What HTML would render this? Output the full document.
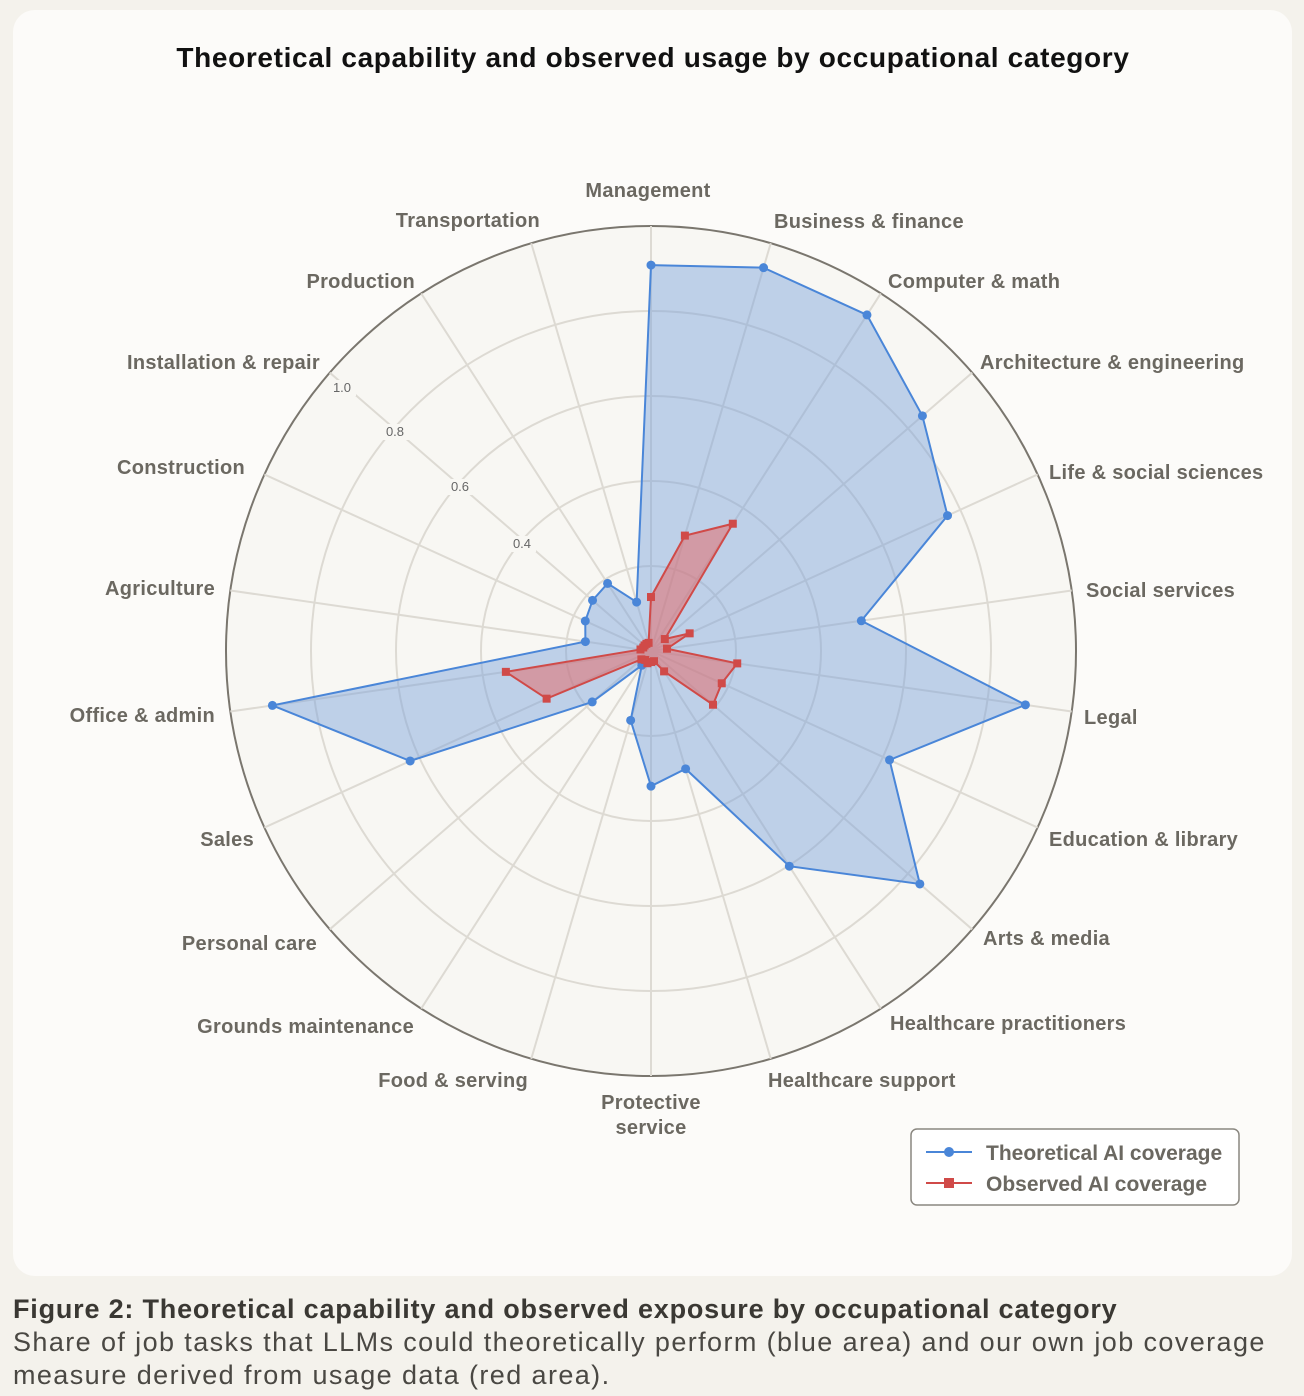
<!DOCTYPE html>
<html><head><meta charset="utf-8"><style>
body{margin:0;width:1304px;height:1396px;background:#f4f2ec;font-family:"Liberation Sans",sans-serif;overflow:hidden}
.card{position:absolute;left:13px;top:10px;width:1279px;height:1266px;background:#fcfbf9;border-radius:22px}
svg{position:absolute;left:0;top:0}
.cap{position:absolute;left:13px;top:1293px;font-size:27px;line-height:33px;color:#4a4843;width:1290px;letter-spacing:1.4px}
.cap b{color:#3a3833;letter-spacing:0.8px}
</style></head><body>
<div class="card"></div>
<svg id="s" width="1304" height="1396" xmlns="http://www.w3.org/2000/svg" font-family="Liberation Sans, sans-serif">
<text x="653" y="67" text-anchor="middle" font-size="28" font-weight="bold" fill="#111" letter-spacing="0.65">Theoretical capability and observed usage by occupational category</text>
<circle cx="651" cy="651" r="425" fill="#f8f7f3" stroke="#7a766e" stroke-width="2"/>
<g id="grid" stroke="#dddad3" stroke-width="2" fill="none"></g>
<g id="ticks" font-size="13" fill="#666" text-anchor="middle"></g>
<g id="data"></g>
<g font-size="20" font-weight="bold" fill="#6b6861" letter-spacing="0.3">
<text x="648" y="197" text-anchor="middle">Management</text>
<text x="774" y="228">Business &amp; finance</text>
<text x="888" y="288">Computer &amp; math</text>
<text x="980" y="369">Architecture &amp; engineering</text>
<text x="1049" y="479">Life &amp; social sciences</text>
<text x="1086" y="597">Social services</text>
<text x="1084" y="724">Legal</text>
<text x="1049" y="846">Education &amp; library</text>
<text x="983" y="945">Arts &amp; media</text>
<text x="890" y="1030">Healthcare practitioners</text>
<text x="768" y="1087">Healthcare support</text>
<text x="651" y="1109" text-anchor="middle">Protective</text>
<text x="651" y="1134" text-anchor="middle">service</text>
<text x="528" y="1087" text-anchor="end">Food &amp; serving</text>
<text x="414" y="1033" text-anchor="end">Grounds maintenance</text>
<text x="317" y="950" text-anchor="end">Personal care</text>
<text x="254" y="846" text-anchor="end">Sales</text>
<text x="215" y="722" text-anchor="end">Office &amp; admin</text>
<text x="215" y="595" text-anchor="end">Agriculture</text>
<text x="245" y="474" text-anchor="end">Construction</text>
<text x="320" y="369" text-anchor="end">Installation &amp; repair</text>
<text x="415" y="288" text-anchor="end">Production</text>
<text x="540" y="227" text-anchor="end">Transportation</text>
</g>
<rect x="911" y="1129" width="328" height="76" rx="6" fill="#fff" stroke="#8a8780" stroke-width="1.5"/>
<line x1="926" y1="1152" x2="972" y2="1152" stroke="#4a86d8" stroke-width="2"/><circle cx="949" cy="1152" r="5" fill="#4a86d8"/>
<line x1="926" y1="1183" x2="972" y2="1183" stroke="#d04a48" stroke-width="2"/><rect x="944" y="1178" width="10" height="10" fill="#d04a48"/>
<g font-size="21" font-weight="bold" fill="#6b6861"><text x="986" y="1160">Theoretical AI coverage</text><text x="986" y="1191">Observed AI coverage</text></g>
</svg>
<div class="cap"><b>Figure 2: Theoretical capability and observed exposure by occupational category</b><br>Share of job tasks that LLMs could theoretically perform (blue area) and our own job coverage<br>measure derived from usage data (red area).</div>
<script>
var cx=651,cy=651,R=425,N=22,ns="http://www.w3.org/2000/svg";
function el(t,a,p){var e=document.createElementNS(ns,t);for(var k in a)e.setAttribute(k,a[k]);p.appendChild(e);return e}
function pt(i,v){var a=i*2*Math.PI/N;return [cx+R*v*Math.sin(a),cy-R*v*Math.cos(a)]}
var g=document.getElementById('grid');
[0.2,0.4,0.6,0.8].forEach(function(v){el('circle',{cx:cx,cy:cy,r:R*v},g)});
for(var i=0;i<N;i++){var p=pt(i,1);el('line',{x1:cx,y1:cy,x2:p[0],y2:p[1]},g)}
var t=document.getElementById('ticks');
[[0.4,522,548],[0.6,460,491],[0.8,395,436],[1.0,342,392]].forEach(function(d){
el('rect',{x:d[1]-14,y:d[2]-12,width:28,height:16,fill:'#f8f7f3'},t);
var e=el('text',{x:d[1],y:d[2]},t);e.textContent=d[0].toFixed(1)});
var blue=[0.908,0.94,0.94,0.845,0.767,0.50,0.89,0.617,0.837,0.602,0.289,0.318,0.17,0.04,0.183,0.623,0.90,0.156,0.17,0.182,0.189,0.12];
var red=[0.127,0.283,0.356,0.043,0.1,0.038,0.205,0.183,0.193,0.057,0.025,0.026,0.03,0.025,0.03,0.27,0.345,0.025,0.02,0.02,0.02,0.02];
var d=document.getElementById('data');
function series(vals,col,fill,sq){var pts=vals.map(function(v,i){return pt(i,v)});
el('polygon',{points:pts.map(function(p){return p.join(',')}).join(' '),fill:fill,stroke:col,'stroke-width':2},d);
pts.forEach(function(p){if(sq)el('rect',{x:p[0]-4,y:p[1]-4,width:8,height:8,fill:col},d);else el('circle',{cx:p[0],cy:p[1],r:4.5,fill:col},d)})}
series(blue,'#4a86d8','rgba(120,160,220,0.45)',false);
series(red,'#d04a48','rgba(225,110,110,0.55)',true);
</script>
</body></html>
